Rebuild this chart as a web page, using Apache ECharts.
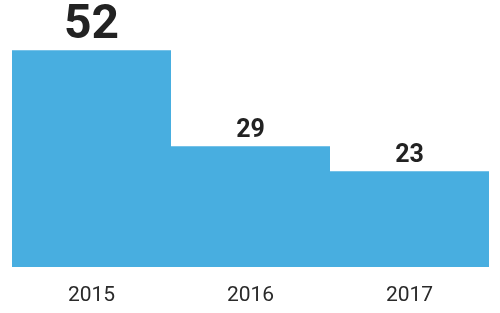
<!DOCTYPE html>
<html>
<head>
<meta charset="utf-8">
<script src="https://cdn.jsdelivr.net/npm/echarts@6/dist/echarts.min.js"></script>
<style>html,body{margin:0;padding:0;background:#fff}#c{width:500px;height:313px}</style>
</head>
<body>
<div id="c"></div>
<script>
const categories = ['2015', '2016', '2017'];
const values = [52, 29, 23];

const chart = echarts.init(document.getElementById('c'), null, {renderer: 'canvas'});
const maxVal = Math.max(...values);
chart.setOption({
  animation: false,
  grid: {left: 12, right: 11, top: 17, bottom: 46},
  xAxis: {
    type: 'category',
    data: categories,
    axisLine: {show: false},
    axisTick: {show: false},
    axisLabel: {color: '#2a2a2a', fontSize: 21, fontFamily: 'Roboto', margin: 18}
  },
  yAxis: {type: 'value', min: 0, max: 60, show: false, splitLine: {show: false}},
  series: [{
    type: 'bar',
    barWidth: '100%',
    barCategoryGap: 0,
    itemStyle: {color: '#48AEE0'},
    data: values.map(v => ({
      value: v,
      label: v === maxVal ? {fontSize: 48, distance: 0} : {fontSize: 25, distance: 3}
    })),
    label: {
      show: true,
      position: 'top',
      color: '#222',
      fontWeight: 'bold',
      fontFamily: 'Roboto'
    }
  }]
});
</script>
</body>
</html>
